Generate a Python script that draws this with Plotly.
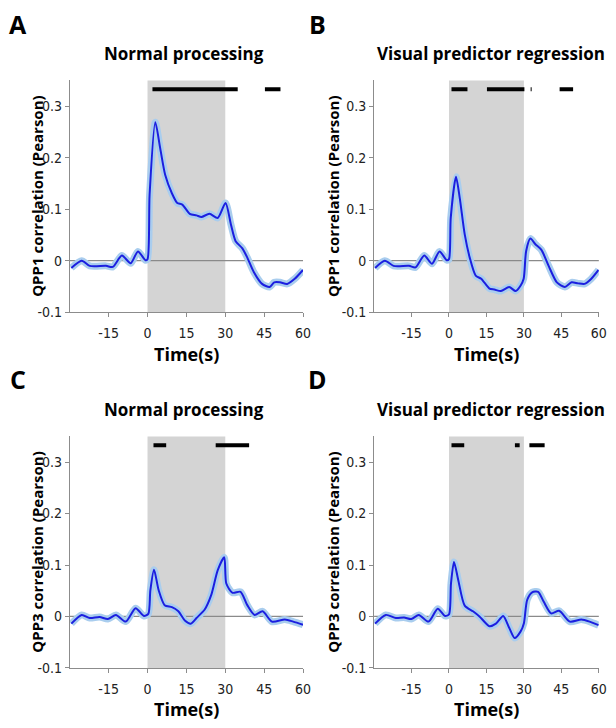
import plotly.graph_objects as go

# ---------------- data ----------------
t_A = [-29.4, -25.4, -22.3, -16.0, -13.4, -9.9, -6.5, -3.7, -0.8, 0.0, 0.8, 3.0, 4.9, 6.8, 9.4, 11.5,
       13.4, 16.3, 18.9, 20.8, 23.9, 27.1, 30.1, 32.2, 34.0, 36.6, 38.5, 41.0, 44.2, 47.1, 48.9,
       51.1, 53.9, 56.8, 60.0]
v_A = [-0.014, 0.0, -0.010, -0.010, -0.012, 0.010, -0.005, 0.018, 0.001, 0.003, 0.128, 0.269, 0.218,
       0.167, 0.131, 0.112, 0.109, 0.091, 0.088, 0.085, 0.091, 0.083, 0.112, 0.070, 0.038, 0.024,
       0.006, -0.022, -0.045, -0.051, -0.042, -0.042, -0.045, -0.035, -0.018]

t_B = [-29.6, -25.7, -22.2, -16.0, -13.4, -9.9, -6.8, -3.8, -0.9, 0.0, 0.7, 2.8, 4.3, 6.3, 8.3, 10.7,
       12.9, 16.2, 18.2, 20.8, 24.1, 26.7, 28.7, 29.9, 30.9, 32.6, 34.6, 37.0, 39.9, 43.2, 46.4,
       49.1, 51.7, 54.3, 57.0, 59.9]
v_B = [-0.014, 0.0, -0.010, -0.010, -0.013, 0.010, -0.006, 0.018, 0.001, 0.003, 0.083, 0.163, 0.122,
       0.051, 0.006, -0.029, -0.035, -0.054, -0.056, -0.059, -0.051, -0.059, -0.048, -0.035, 0.019,
       0.043, 0.032, 0.021, -0.010, -0.042, -0.051, -0.042, -0.044, -0.045, -0.035, -0.018]

t_C = [-29.4, -25.4, -22.3, -18.5, -15.3, -12.2, -8.4, -4.6, -1.4, 0.3, 1.1, 2.5, 4.3, 6.6, 9.4, 11.9,
       14.4, 16.7, 18.9, 22.0, 24.6, 27.1, 29.6, 30.4, 32.8, 35.9, 38.5, 41.3, 44.4, 48.0, 53.0,
       56.2, 60.0]
v_C = [-0.014, 0.003, -0.003, -0.001, -0.005, 0.003, -0.010, 0.016, 0.001, 0.005, 0.051, 0.091, 0.051,
       0.022, 0.018, 0.010, -0.008, -0.014, -0.003, 0.013, 0.042, 0.090, 0.115, 0.064, 0.046, 0.048,
       0.022, 0.003, 0.010, -0.010, -0.006, -0.010, -0.016]

t_D = [-29.6, -25.3, -21.3, -18.0, -15.1, -12.1, -8.2, -4.5, -1.6, 0.0, 0.8, 2.0, 3.7, 6.3, 9.6, 12.2,
       16.2, 18.8, 21.7, 24.1, 26.3, 28.7, 30.0, 31.3, 33.3, 35.7, 37.9, 40.9, 44.1, 48.4, 53.0,
       56.3, 59.9]
v_D = [-0.014, 0.003, -0.003, -0.002, -0.005, 0.003, -0.010, 0.015, 0.001, 0.004, 0.064, 0.106, 0.071,
       0.021, 0.010, 0.000, -0.019, -0.014, 0.001, -0.022, -0.042, -0.029, -0.013, 0.032, 0.047,
       0.048, 0.029, 0.006, 0.011, -0.010, -0.006, -0.010, -0.017]

# significance bars (start, end) in seconds
sig_A = [(1.9, 34.8), (45.3, 51.3)]
sig_B = [(1.0, 7.4), (15.2, 30.2), (32.7, 33.1), (44.3, 49.7)]
sig_C = [(2.3, 7.2), (26.3, 39.2)]
sig_D = [(1.0, 6.1), (26.4, 28.3), (32.2, 38.3)]
sig_level = 0.333

stim_on, stim_off = 0, 30
x_ticks = [-15, 0, 15, 30, 45, 60]
y_ticks = [0.3, 0.2, 0.1, 0, -0.1]
y_tick_text = ["0.3", "0.2", "0.1", "0", "-0.1"]

panels = [
    ("A", "Normal processing", "QPP1 correlation (Pearson)", t_A, v_A, sig_A),
    ("B", "Visual predictor regression", "QPP1 correlation (Pearson)", t_B, v_B, sig_B),
    ("C", "Normal processing", "QPP3 correlation (Pearson)", t_C, v_C, sig_C),
    ("D", "Visual predictor regression", "QPP3 correlation (Pearson)", t_D, v_D, sig_D),
]

# ---------------- layout geometry (pixels) ----------------
W, H = 616, 728
col_x = [(70.7, 307.0), (379.0, 606.7)]
row_y = [(81.3, 315.7), (441.3, 675.3)]

TICKFONT = dict(family="Liberation Sans Narrow, DejaVu Sans Condensed, Arial Narrow, sans-serif",
                size=14, color="#222222")
BOLD = "Open Sans, Lato, Liberation Sans, sans-serif"

LINE_BLUE = "#1b1fe0"
BAND_BLUE = "#a9cdee"
AXIS_GRAY = "#8c8c8c"

fig = go.Figure()
annotations = []
shapes = []

for i, (letter, title, ytitle, tt, vv, sig) in enumerate(panels):
    r, c = divmod(i, 2)
    x0, x1 = col_x[c]
    yt, yb = row_y[r]
    idx = "" if i == 0 else str(i + 1)
    xa, ya = "x" + idx, "y" + idx
    xkey, ykey = "xaxis" + idx, "yaxis" + idx
    fig.layout[xkey] = dict(
        domain=[x0 / W, x1 / W], anchor=ya, range=[-30, 60],
        tickvals=x_ticks, ticktext=[str(v) for v in x_ticks],
        showline=True, linecolor=AXIS_GRAY, linewidth=1, ticks="outside",
        ticklen=4, tickcolor=AXIS_GRAY, showgrid=False, zeroline=False,
        tickfont=TICKFONT, fixedrange=True, ticklabelstandoff=4,
    )
    fig.layout[ykey] = dict(
        domain=[1 - yb / H, 1 - yt / H], anchor=xa, range=[-0.1, 0.35],
        tickvals=y_ticks, ticktext=y_tick_text,
        showline=True, linecolor=AXIS_GRAY, linewidth=1, ticks="outside",
        ticklen=4, tickcolor=AXIS_GRAY, showgrid=False, zeroline=False,
        tickfont=TICKFONT, fixedrange=True,
    )
    # stimulus period
    shapes.append(dict(type="rect", xref=xa, yref=ya + " domain", x0=stim_on, x1=stim_off,
                       y0=0, y1=1, fillcolor="#d4d4d4", line=dict(width=0), layer="below"))
    # zero line
    shapes.append(dict(type="line", xref=xa + " domain", yref=ya, x0=0, x1=1, y0=0, y1=0,
                       line=dict(color="#8a8a8a", width=1.2), layer="below"))
    # SEM band (drawn as wide light line) and mean line
    fig.add_trace(go.Scatter(x=tt, y=vv, xaxis=xa, yaxis=ya, mode="lines",
                             line=dict(color=BAND_BLUE, width=7, shape="spline", smoothing=0.7),
                             hoverinfo="skip", showlegend=False))
    fig.add_trace(go.Scatter(x=tt, y=vv, xaxis=xa, yaxis=ya, mode="lines",
                             line=dict(color=LINE_BLUE, width=2, shape="spline", smoothing=0.7),
                             showlegend=False))
    # significance bars
    for (s0, s1) in sig:
        fig.add_trace(go.Scatter(x=[s0, s1], y=[sig_level, sig_level], xaxis=xa, yaxis=ya,
                                 mode="lines", line=dict(color="black", width=4),
                                 hoverinfo="skip", showlegend=False))
    # panel letter
    letter_x = 18 if c == 0 else 322
    letter_y = 24 if r == 0 else 383
    annotations.append(dict(text="<b>%s</b>" % letter, x=letter_x / W, y=1 - letter_y / H,
                            xref="paper", yref="paper", showarrow=False,
                            font=dict(family=BOLD, size=25, color="black"),
                            xanchor="center", yanchor="middle"))
    # title
    title_x = 186 if c == 0 else 497
    title_y = 54 if r == 0 else 414
    annotations.append(dict(text="<b>%s</b>" % title, x=title_x / W, y=1 - title_y / H,
                            xref="paper", yref="paper", showarrow=False,
                            font=dict(family=BOLD, size=17, color="black"),
                            xanchor="center", yanchor="middle"))
    # y title
    ytx = 38 if c == 0 else 338
    annotations.append(dict(text="<b>%s</b>" % ytitle, x=ytx / W, y=1 - (yt + yb) / 2 / H,
                            xref="paper", yref="paper", showarrow=False, textangle=-90,
                            font=dict(family=BOLD, size=15, color="black"),
                            xanchor="center", yanchor="middle"))
    # x title
    xtx = (x0 + x1) / 2
    annotations.append(dict(text="<b>Time(s)</b>", x=xtx / W, y=1 - (yb + 42) / H,
                            xref="paper", yref="paper", showarrow=False,
                            font=dict(family=BOLD, size=18, color="black"),
                            xanchor="center", yanchor="middle"))

fig.update_layout(
    width=W, height=H, margin=dict(l=0, r=0, t=0, b=0),
    paper_bgcolor="white", plot_bgcolor="white",
    shapes=shapes, annotations=annotations, showlegend=False,
)

fig.write_html("out.html", config={"displayModeBar": False},
               post_script="document.body.style.margin='0';document.body.style.overflow='hidden';")
